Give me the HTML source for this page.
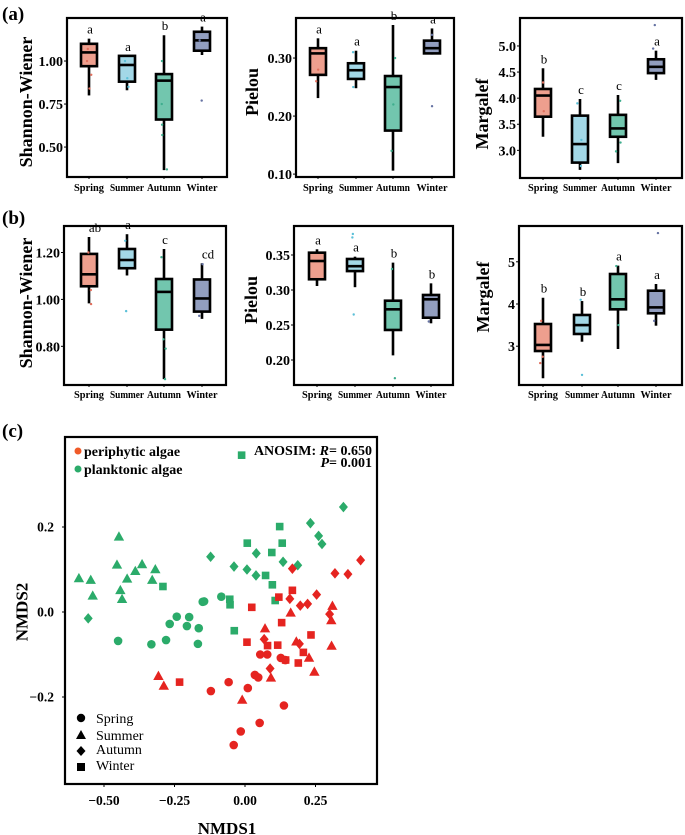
<!DOCTYPE html>
<html><head><meta charset="utf-8"><style>
html,body{margin:0;padding:0;background:#fff;}
svg{display:block;}
svg text{font-family:"Liberation Serif",serif;}
</style></head><body>
<svg id="fig" width="685" height="835" viewBox="0 0 685 835" xmlns="http://www.w3.org/2000/svg" font-family="Liberation Serif, serif">
<text x="2" y="20" font-size="19" font-weight="bold">(a)</text>
<text x="2" y="224" font-size="19" font-weight="bold">(b)</text>
<text x="2" y="437" font-size="19" font-weight="bold">(c)</text>
<g id="boxes"></g>
<g id="nmds"></g>
</svg>
<script>
const NS="http://www.w3.org/2000/svg";
const categories=["Spring","Summer","Autumn","Winter"];
const fills=["#ee9f8e","#a3d8e7","#72c6ae","#929ebf"];
const dots=["#e0705e","#5cc0d8","#3fae8e","#6673a3"];
// each box: [lo, q1, median, q3, hi]
const aShannonBoxes=[[0.80,0.97,1.05,1.10,1.13],[0.83,0.88,0.977,1.03,1.03],[0.366,0.66,0.886,0.924,1.15],[1.035,1.06,1.12,1.17,1.20]];
const aShannonLetters=["a","a","b","a"];
const aShannonPts=[[0,0.92],[0,0.84],[0,1.0],[0,1.07],[1,0.85],[1,0.9],[1,1.0],[2,0.75],[2,0.63],[2,0.57],[2,0.37],[2,1.0],[3,0.77],[3,1.12]];
const aPielouBoxes=[[0.231,0.271,0.308,0.317,0.334],[0.248,0.264,0.279,0.291,0.3126],[0.106,0.175,0.250,0.269,0.357],[0.306,0.308,0.317,0.330,0.351]];
const aPielouLetters=["a","a","b","a"];
const aPielouPts=[[0,0.26],[0,0.28],[1,0.25],[1,0.31],[2,0.22],[2,0.30],[2,0.14],[3,0.217],[3,0.34]];
const aMargBoxes=[[3.26,3.645,4.05,4.176,4.573],[2.625,2.765,3.12,3.665,3.985],[2.755,3.26,3.42,3.68,4.06],[4.35,4.48,4.60,4.745,4.91]];
const aMargLetters=["b","c","c","a"];
const aMargPts=[[0,3.75],[0,4.3],[1,3.9],[1,3.2],[1,2.7],[2,3.95],[2,2.98],[2,3.15],[3,5.4],[3,4.95]];
const bShannonBoxes=[[0.983,1.056,1.107,1.194,1.266],[1.102,1.133,1.168,1.215,1.278],[0.66,0.871,1.032,1.087,1.215],[0.917,0.948,1.004,1.085,1.154]];
const bShannonLetters=["ab","a","c","cd"];
const bShannonPts=[[0,0.98],[0,1.2],[0,1.04],[1,0.95],[1,1.25],[2,0.79],[2,0.83],[2,0.66],[2,1.18],[3,0.93],[3,1.15]];
const bPielouBoxes=[[0.3057,0.3153,0.3414,0.3533,0.3581],[0.304,0.327,0.334,0.3443,0.3476],[0.2067,0.2429,0.2724,0.2847,0.339],[0.2524,0.2604,0.2867,0.2929,0.3095]];
const bPielouLetters=["a","a","b","b"];
const bPielouPts=[[1,0.265],[1,0.38],[1,0.375],[2,0.174],[2,0.33],[3,0.255]];
const bMargBoxes=[[2.24,2.886,3.03,3.526,4.149],[3.107,3.29,3.50,3.74,4.07],[2.934,3.874,4.111,4.711,4.908],[3.486,3.78,3.92,4.315,4.474]];
const bMargLetters=["b","b","a","a"];
const bMargPts=[[0,2.6],[0,2.75],[0,3.6],[1,2.32],[1,4.1],[2,4.9],[2,3.5],[3,5.68],[3,3.6]];

const panels=[
 {id:"a-shannon",x0:67,x1:227,y0:18,y1:177,dom:[0.326,1.25],ticks:[0.5,0.75,1.0],tl:["0.50","0.75","1.00"],xs:[89,127,164,202],boxes:aShannonBoxes,letters:aShannonLetters,pts:aShannonPts,label:"Shannon-Wiener",lx:26,ly:102,fs:18,cy:191},
 {id:"a-pielou",x0:296,x1:454,y0:18,y1:177,dom:[0.095,0.369],ticks:[0.1,0.2,0.3],tl:["0.10","0.20","0.30"],xs:[318,356,393,432],boxes:aPielouBoxes,letters:aPielouLetters,pts:aPielouPts,label:"Pielou",lx:252,ly:92,fs:18,cy:191},
 {id:"a-margalef",x0:520,x1:682,y0:18,y1:178,dom:[2.47,5.536],ticks:[3,3.5,4,4.5,5],tl:["3.0","3.5","4.0","4.5","5.0"],xs:[543,580,618,656],boxes:aMargBoxes,letters:aMargLetters,pts:aMargPts,label:"Margalef",lx:482,ly:114,fs:18,cy:191},
 {id:"b-shannon",x0:64,x1:226,y0:226,y1:385,dom:[0.635,1.313],ticks:[0.8,1.0,1.2],tl:["0.80","1.00","1.20"],xs:[89,127,164,202],boxes:bShannonBoxes,letters:bShannonLetters,pts:bShannonPts,label:"Shannon-Wiener",lx:26,ly:303,fs:18,cy:398},
 {id:"b-pielou",x0:294,x1:453,y0:226,y1:385,dom:[0.1643,0.3914],ticks:[0.2,0.25,0.3,0.35],tl:["0.20","0.25","0.30","0.35"],xs:[317,355,393,431],boxes:bPielouBoxes,letters:bPielouLetters,pts:bPielouPts,label:"Pielou",lx:251,ly:300,fs:18,cy:398},
 {id:"b-margalef",x0:519,x1:682,y0:226,y1:385,dom:[2.081,5.848],ticks:[3,4,5],tl:["3","4","5"],xs:[543,582,618,656],boxes:bMargBoxes,letters:bMargLetters,pts:bMargPts,label:"Margalef",lx:483,ly:297,fs:18,cy:398}
];
const catWidths=[30,34,34,31];
function mk(tag,attrs,parent,txt){const e=document.createElementNS(NS,tag);for(const k in attrs)e.setAttribute(k,attrs[k]);if(txt!==undefined)e.textContent=txt;parent.appendChild(e);return e;}
const G=document.getElementById("boxes");
panels.forEach(p=>{
 const g=mk("g",{},G);
 
 
 const ys=v=>p.y1-(v-p.dom[0])/(p.dom[1]-p.dom[0])*(p.y1-p.y0);
 const fr=mk("rect",{x:p.x0,y:p.y0,width:p.x1-p.x0,height:p.y1-p.y0,fill:"none",stroke:"#000","stroke-width":2.2},g);
 
 
 p.ticks.forEach((t,i)=>{
  mk("line",{x1:p.x0-3,x2:p.x0,y1:ys(t),y2:ys(t),stroke:"#000","stroke-width":1},g);
  const tx=mk("text",{x:p.x0-4,y:ys(t)+5,"text-anchor":"end","font-size":14,"font-weight":"bold"},g,p.tl[i]);
  
  
 });
 const yl=mk("text",{x:p.lx,y:p.ly,transform:`rotate(-90 ${p.lx} ${p.ly})`,"text-anchor":"middle","dominant-baseline":"central","font-size":p.fs,"font-weight":"bold"},g,p.label);
 
 
 p.boxes.forEach((b,i)=>{
  const cx=p.xs[i],w=16;
  mk("line",{x1:cx,x2:cx,y1:ys(b[0]),y2:ys(b[4]),stroke:"#000","stroke-width":2.6},g);
  const r=mk("rect",{x:cx-w/2,y:ys(b[3]),width:w,height:ys(b[1])-ys(b[3]),fill:fills[i],stroke:"#000","stroke-width":2.6},g);
  
  
  mk("line",{x1:cx-w/2,x2:cx+w/2,y1:ys(b[2]),y2:ys(b[2]),stroke:"#000","stroke-width":2.6},g);
  const lt=mk("text",{x:cx+(p.letters[i].length>1?6:1),y:ys(b[4])-5,"text-anchor":"middle","font-size":13},g,p.letters[i]);
  
  
  mk("line",{x1:cx,x2:cx,y1:p.y1,y2:p.y1+2,stroke:"#000","stroke-width":1},g);
  const cl=mk("text",{x:cx-catWidths[i]/2,y:p.cy,"font-size":11,"font-weight":"bold",textLength:catWidths[i],lengthAdjust:"spacingAndGlyphs"},g,categories[i]);
  
  
 });
 p.pts.forEach(pt=>{
  const c=mk("circle",{cx:p.xs[pt[0]]+((pt[1]*97)%6-3),cy:ys(pt[1]),r:1.2,fill:dots[pt[0]]},g);
  
  
 });
});

// NMDS
const periSpring=[[0.054,-0.100],[0.079,-0.100],[0.127,-0.108],[0.143,-0.113],[0.035,-0.148],[0.047,-0.154],[-0.058,-0.165],[0.010,-0.179],[-0.121,-0.186],[0.138,-0.220],[0.052,-0.261],[-0.015,-0.281],[-0.040,-0.313]];
const periSummer=[[0.310,0.014],[0.306,-0.020],[0.307,-0.080],[0.162,-0.002],[0.071,-0.039],[0.182,-0.070],[0.227,-0.108],[0.246,-0.141],[0.092,-0.155],[-0.010,-0.207],[-0.307,-0.151],[-0.288,-0.174]];
const periAutumn=[[0.168,0.102],[0.319,0.091],[0.365,0.089],[0.410,0.122],[0.159,0.031],[0.196,0.015],[0.222,0.019],[0.254,0.041],[0.300,-0.005],[0.068,-0.064],[0.193,-0.075],[0.089,-0.133]];
const periWinter=[[0.120,0.035],[0.168,0.051],[0.024,0.011],[0.130,-0.025],[0.234,-0.054],[0.007,-0.071],[0.080,-0.079],[0.116,-0.078],[0.207,-0.095],[0.144,-0.113],[0.189,-0.120],[-0.232,-0.165]];
const plankSpring=[[-0.450,-0.068],[-0.332,-0.076],[-0.280,-0.066],[-0.267,-0.028],[-0.242,-0.011],[-0.206,-0.033],[-0.198,-0.012],[-0.164,-0.038],[-0.167,-0.075],[-0.150,0.024],[-0.145,0.025],[-0.084,0.036]];
const plankSummer=[[-0.589,0.079],[-0.547,0.075],[-0.540,0.038],[-0.447,0.177],[-0.454,0.111],[-0.442,0.051],[-0.436,0.030],[-0.418,0.078],[-0.389,0.096],[-0.365,0.112],[-0.318,0.100],[-0.329,0.075]];
const plankAutumn=[[-0.556,-0.015],[-0.122,0.130],[-0.039,0.107],[0.007,0.100],[0.040,0.138],[0.039,0.086],[0.135,0.118],[0.187,0.110],[0.232,0.209],[0.261,0.179],[0.273,0.160],[0.349,0.247]];
const plankWinter=[[-0.012,0.369],[-0.291,0.060],[0.008,0.162],[0.123,0.201],[0.132,0.162],[0.095,0.140],[0.073,0.086],[0.097,0.064],[-0.054,0.030],[-0.053,0.017],[0.107,0.027],[-0.038,-0.044]];
const xTicks=[-0.5,-0.25,0,0.25];
const xTickLabels=["\u22120.50","\u22120.25","0.00","0.25"];
const yTicks=[-0.2,0,0.2];
const yTickLabels=["\u22120.2","0.0","0.2"];
const RED="#e52420",GREEN="#2bab6a";
const N=document.getElementById("nmds");
const F={x0:65,x1:377,y0:437,y1:784};
const sx=v=>245+282*v, sy=v=>612-425*v;
const fr=mk("rect",{x:F.x0,y:F.y0,width:F.x1-F.x0,height:F.y1-F.y0,fill:"none",stroke:"#000","stroke-width":2.2},N);


xTicks.forEach((t,i)=>{
 mk("line",{x1:sx(t),x2:sx(t),y1:F.y1,y2:F.y1+3,stroke:"#000"},N);
 const e=mk("text",{x:sx(t),y:805,"text-anchor":"middle","font-size":13.5,"font-weight":"bold"},N,xTickLabels[i]);
 
 
});
yTicks.forEach((t,i)=>{
 mk("line",{x1:F.x0-3,x2:F.x0,y1:sy(t),y2:sy(t),stroke:"#000"},N);
 const e=mk("text",{x:F.x0-11,y:sy(t)+4.5,"text-anchor":"end","font-size":13.5,"font-weight":"bold"},N,yTickLabels[i]);
 
 
});
function shape(kind,x,y,col,parent,s){
 s=s||1;
 if(kind==="circle") return mk("circle",{cx:x,cy:y,r:4.3*s,fill:col},parent);
 if(kind==="triangle") return mk("polygon",{points:`${x},${y-5.5*s} ${x+5.2*s},${y+3.8*s} ${x-5.2*s},${y+3.8*s}`,fill:col},parent);
 if(kind==="diamond") return mk("polygon",{points:`${x},${y-5.3*s} ${x+4.5*s},${y} ${x},${y+5.3*s} ${x-4.5*s},${y}`,fill:col},parent);
 return mk("rect",{x:x-3.8*s,y:y-3.8*s,width:7.6*s,height:7.6*s,fill:col},parent);
}
const series=[[plankSpring,"circle",GREEN,"planktonic-spring"],[plankSummer,"triangle",GREEN,"planktonic-summer"],[plankAutumn,"diamond",GREEN,"planktonic-autumn"],[plankWinter,"square",GREEN,"planktonic-winter"],
 [periSpring,"circle",RED,"periphytic-spring"],[periSummer,"triangle",RED,"periphytic-summer"],[periAutumn,"diamond",RED,"periphytic-autumn"],[periWinter,"square",RED,"periphytic-winter"]];
series.forEach(s=>{
 const g=mk("g",{},N);
 
 
 s[0].forEach(d=>{
  const e=shape(s[1],sx(d[0]),sy(d[1]),s[2],g);
  
  
 });
});
</script>
<svg width="685" height="835" style="position:absolute;left:0;top:0" xmlns="http://www.w3.org/2000/svg" font-family="Liberation Serif, serif">
<g>
<circle cx="78" cy="451" r="3.5" fill="#f05a28"/>
<text x="84" y="456" font-size="14" font-weight="bold">periphytic algae</text>
<circle cx="78" cy="469" r="3.5" fill="#2bab6a"/>
<text x="84" y="474" font-size="14" font-weight="bold">planktonic algae</text>
<text x="372" y="455" text-anchor="end" font-size="14" font-weight="bold">ANOSIM: <tspan font-style="italic">R</tspan>= 0.650</text>
<text x="372" y="467" text-anchor="end" font-size="14" font-weight="bold"><tspan font-style="italic">P</tspan>= 0.001</text>
<circle cx="81" cy="718" r="4.2" fill="#000"/>
<text x="96" y="723" font-size="14">Spring</text>
<polygon points="81,730 86,739 76,739" fill="#000"/>
<text x="96" y="740" font-size="14">Summer</text>
<polygon points="81,746 85.5,751 81,756 76.5,751" fill="#000"/>
<text x="96" y="754" font-size="14">Autumn</text>
<rect x="77" y="763" width="8" height="8" fill="#000"/>
<text x="96" y="770" font-size="14">Winter</text>
<text x="227" y="834" text-anchor="middle" font-size="17" font-weight="bold">NMDS1</text>
<text x="22" y="612" transform="rotate(-90 22 612)" text-anchor="middle" dominant-baseline="central" font-size="17" font-weight="bold">NMDS2</text>
</g>
</svg>
</body></html>
